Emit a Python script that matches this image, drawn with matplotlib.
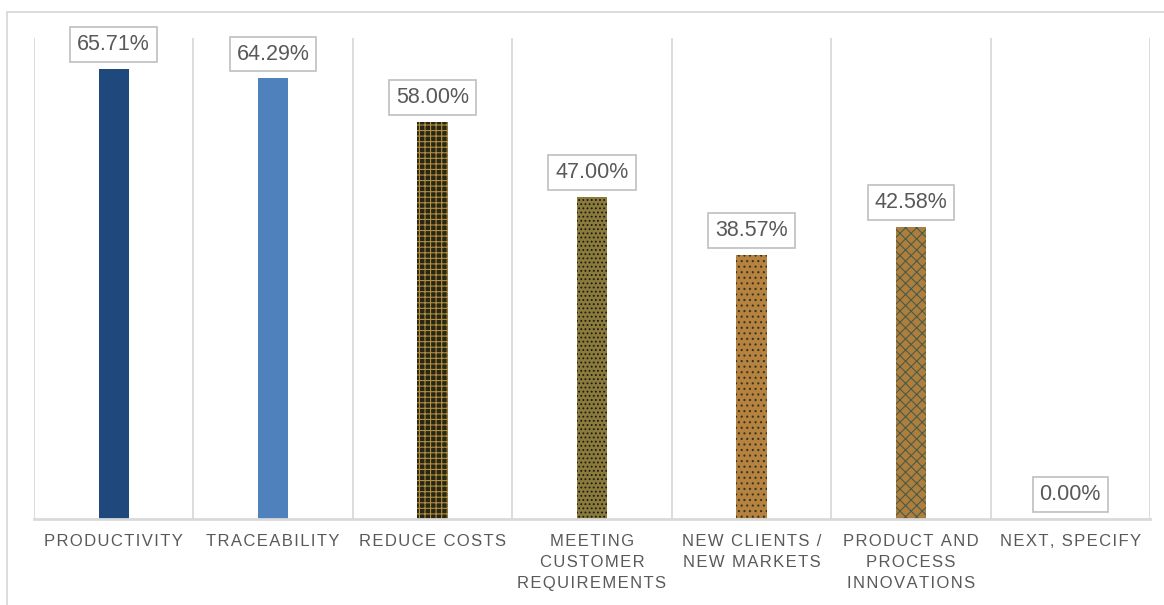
"""
Bar chart of reasons for adopting the system, with boxed value labels
"""

import matplotlib.pyplot as plt
from matplotlib.lines import Line2D

categories = [
    'PRODUCTIVITY',
    'TRACEABILITY',
    'REDUCE COSTS',
    'MEETING\nCUSTOMER\nREQUIREMENTS',
    'NEW CLIENTS /\nNEW MARKETS',
    'PRODUCT AND\nPROCESS\nINNOVATIONS',
    'NEXT, SPECIFY',
]
values = [65.71, 64.29, 58.00, 47.00, 38.57, 42.58, 0.00]

# fill, hatch colour and hatch pattern per bar
face_colors = ['#1f497d', '#4f81bd', '#2a2616', '#8a7a3c', '#b5823f', '#ad7f3e', '#ffffff']
hatch_colors = ['#1f497d', '#4f81bd', '#b09040', '#1a1a10', '#3a3520', '#4d5a45', '#ffffff']
hatches = [None, None, '+++', '....', '...', 'xxx', None]

GRID = '#d9d9d9'
TEXT = '#595959'
FONT = ['Liberation Sans', 'DejaVu Sans']


def spaced(label):
  # wide tracking on the axis labels
  return '\n'.join('\u200a'.join(line) for line in label.split('\n'))


plt.rcParams['hatch.linewidth'] = 0.8

fig = plt.figure(figsize=(11.64, 6.05), dpi=100)
ax = fig.add_axes([34 / 1164, 1 - 519 / 605, (1150 - 34) / 1164, (519 - 38) / 605])

n = len(categories)
x = list(range(n))
for i in x:
  ax.bar(i, values[i], width=0.19, color=face_colors[i], edgecolor=hatch_colors[i],
         linewidth=0, hatch=hatches[i], zorder=2)
  ax.annotate('%.2f%%' % values[i], xy=(i, values[i]), xytext=(0, 10),
              textcoords='offset points', ha='center', va='bottom',
              fontsize=15.5, color=TEXT, family=FONT,
              bbox=dict(boxstyle='square,pad=0.32', fc='white', ec='#bfbfbf', lw=1.2),
              zorder=3)

# vertical separators between categories
for b in [k - 0.5 for k in range(n + 1)]:
  ax.axvline(b, color=GRID, lw=1.3, zorder=1)

ax.set_xlim(-0.5, n - 0.5)
ax.set_ylim(0, 70.2)
ax.set_yticks([])
ax.set_xticks(x)
ax.set_xticklabels([spaced(c) for c in categories], fontsize=12, color=TEXT,
                   linespacing=1.5, va='top', family=FONT)
ax.tick_params(axis='x', length=0, pad=11)
for side in ['top', 'right', 'left']:
  ax.spines[side].set_visible(False)
ax.spines['bottom'].set_color(GRID)
ax.spines['bottom'].set_linewidth(2)

# outer chart border (top and left edges only visible)
fig.add_artist(Line2D([7 / 1164, 1], [1 - 12 / 605, 1 - 12 / 605], color='#d9d9d9', lw=1.3))
fig.add_artist(Line2D([7 / 1164, 7 / 1164], [0, 1 - 12 / 605], color='#d9d9d9', lw=1.3))

plt.savefig('out.png', dpi=100, facecolor='white')
